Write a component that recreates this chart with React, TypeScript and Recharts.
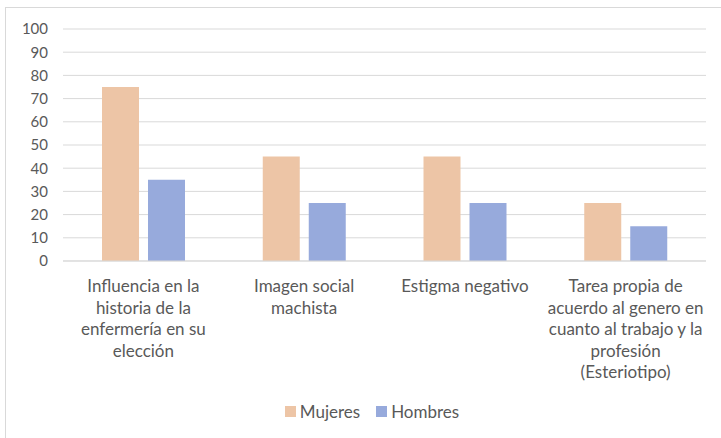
import React from "react";
import { BarChart, Bar, XAxis, YAxis, CartesianGrid, Legend } from "recharts";

const categories = [
  "Influencia en la historia de la enfermería en su elección",
  "Imagen social machista",
  "Estigma negativo",
  "Tarea propia de acuerdo al genero en cuanto al trabajo y la profesión (Esteriotipo)",
];
const mujeres = [75, 45, 45, 25];
const hombres = [35, 25, 25, 15];
const yTicks = [0, 10, 20, 30, 40, 50, 60, 70, 80, 90, 100];
const seriesNames = ["Mujeres", "Hombres"];
const colors = ["#EDC5A6", "#97AADC"];

const data = categories.map((c, i) => ({ name: c, Mujeres: mujeres[i], Hombres: hombres[i] }));

const FONT = "Lato, 'Open Sans', sans-serif";
const TEXT = "#595959";
const CAT_FS = 17;

let ctx: CanvasRenderingContext2D | null = null;
function measure(s: string): number {
  if (!ctx) {
    const c = document.createElement("canvas");
    ctx = c.getContext("2d");
  }
  if (!ctx) return s.length * 8;
  ctx.font = `${CAT_FS}px ${FONT}`;
  return ctx.measureText(s).width;
}

function wrap(text: string, maxW: number): string[] {
  const words = text.split(" ");
  const lines: string[] = [];
  let cur = "";
  for (const w of words) {
    const t = cur ? cur + " " + w : w;
    if (cur && measure(t) > maxW) {
      lines.push(cur);
      cur = w;
    } else cur = t;
  }
  if (cur) lines.push(cur);
  return lines;
}

const XTick = (props: any) => {
  const { x, y, payload } = props;
  const lines = wrap(payload.value, 160);
  return (
    <g>
      {lines.map((l, i) => (
        <text key={i} x={x} y={y + 23 + i * 21.5} textAnchor="middle" fontSize={CAT_FS} fontFamily={FONT} fill={TEXT}>
          {l}
        </text>
      ))}
    </g>
  );
};

const LegendContent = () => (
  <div style={{ display: "flex", justifyContent: "center", alignItems: "center", height: 20, paddingLeft: 38, boxSizing: "border-box", fontFamily: FONT, fontSize: 17, color: TEXT }}>
    {seriesNames.map((n, i) => (
      <div key={n} style={{ display: "flex", alignItems: "center", marginLeft: i ? 16 : 0 }}>
        <div style={{ width: 11, height: 11, background: colors[i], marginRight: 4 }} />
        <span>{n}</span>
      </div>
    ))}
  </div>
);

export default function App() {
  return (
    <div style={{ position: "absolute", left: 0, top: 0, width: 721, height: 438, background: "#fff" }}>
      <div style={{ position: "absolute", left: 5, top: 7, width: 730, height: 440, border: "1px solid #D9D9D9", boxSizing: "border-box" }} />
      <BarChart
        width={721}
        height={438}
        data={data}
        margin={{ top: 29, right: 15, bottom: 17, left: 0 }}
        barSize={37}
        barGap={9}
      >
        <CartesianGrid vertical={false} stroke="#D9D9D9" strokeWidth={1} />
        <XAxis
          dataKey="name"
          interval={0}
          height={140}
          tickLine={false}
          axisLine={{ stroke: "#D9D9D9" }}
          tick={<XTick />}
        />
        <YAxis
          width={63}
          domain={[0, 100]}
          ticks={yTicks}
          interval={0}
          axisLine={false}
          tickLine={false}
          tickMargin={9}
          tick={{ fontSize: 15, fontFamily: FONT, fill: TEXT }}
        />
        <Legend verticalAlign="bottom" height={20} content={<LegendContent />} />
        <Bar dataKey="Mujeres" fill={colors[0]} isAnimationActive={false} />
        <Bar dataKey="Hombres" fill={colors[1]} isAnimationActive={false} />
      </BarChart>
    </div>
  );
}
